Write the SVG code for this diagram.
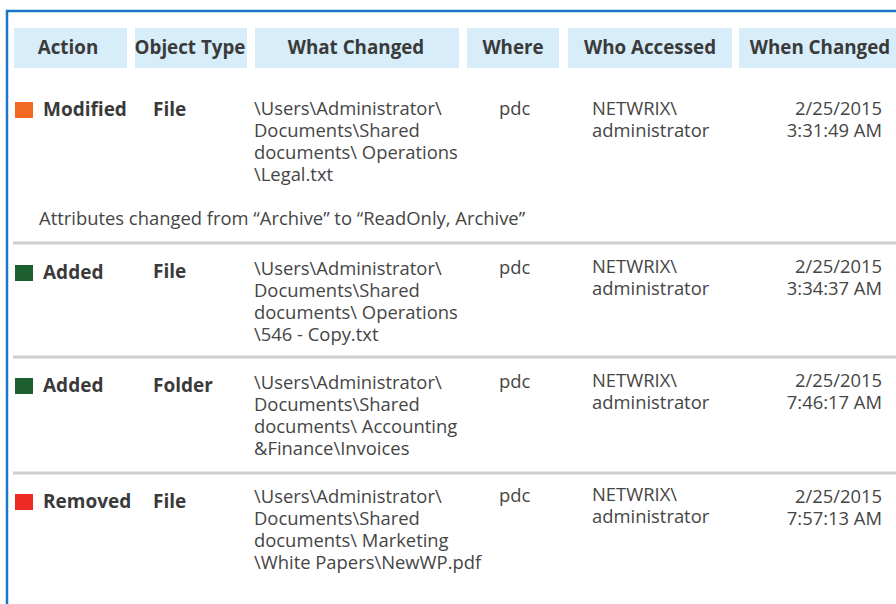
<svg xmlns="http://www.w3.org/2000/svg" width="896" height="604" viewBox="0 0 896 604">
<style>
.hd{fill:#d7edf9}
.ht{font-family:"Open Sans","Noto Sans",sans-serif;font-weight:bold;font-size:18.8px;fill:#3a3a3a;text-anchor:middle}
.b{font-family:"Open Sans","Noto Sans",sans-serif;font-weight:bold;font-size:19px;fill:#3a3a3a}
.t{font-family:"Open Sans","Noto Sans",sans-serif;font-size:18.4px;fill:#454545}
.r{text-anchor:end}
.sep{stroke:#cfcfcf;stroke-width:3}
</style>
<rect width="896" height="604" fill="#fff"/>
<path d="M7 604 V11 H896" fill="none" stroke="#1b74c5" stroke-width="2.5"/>
<g id="header">
<rect class="hd" x="14" y="28" width="113" height="40"/>
<rect class="hd" x="135" y="28" width="112" height="40"/>
<rect class="hd" x="255" y="28" width="204" height="40"/>
<rect class="hd" x="467" y="28" width="92" height="40"/>
<rect class="hd" x="568" y="28" width="164" height="40"/>
<rect class="hd" x="739" y="28" width="160" height="40"/>
<text class="ht" x="68" y="54">Action</text>
<text class="ht" x="190" y="54">Object Type</text>
<text class="ht" x="356" y="54">What Changed</text>
<text class="ht" x="513" y="54">Where</text>
<text class="ht" x="650" y="54">Who Accessed</text>
<text class="ht" x="820" y="54">When Changed</text>
</g>
<g id="row1">
<rect x="15" y="102" width="18" height="16" fill="#f26a22"/>
<text class="b" x="43" y="116">Modified</text>
<text class="b" x="153" y="116">File</text>
<text class="t" x="254" y="115">\Users\Administrator\</text>
<text class="t" x="254" y="137">Documents\Shared</text>
<text class="t" x="254" y="159">documents\ Operations</text>
<text class="t" x="254" y="181">\Legal.txt</text>
<text class="t" x="499" y="115">pdc</text>
<text class="t" x="592" y="115">NETWRIX\</text>
<text class="t" x="592" y="137">administrator</text>
<text class="t r" x="882" y="115">2/25/2015</text>
<text class="t r" x="882" y="137">3:31:49 AM</text>
<text class="t" x="39" y="225">Attributes changed from “Archive” to “ReadOnly, Archive”</text>
</g>
<line class="sep" x1="13" y1="243" x2="896" y2="243"/>
<g id="row2">
<rect x="15" y="265" width="18" height="16" fill="#1d5f2f"/>
<text class="b" x="43" y="279">Added</text>
<text class="b" x="153" y="278">File</text>
<text class="t" x="254" y="275">\Users\Administrator\</text>
<text class="t" x="254" y="297">Documents\Shared</text>
<text class="t" x="254" y="319">documents\ Operations</text>
<text class="t" x="254" y="341">\546 - Copy.txt</text>
<text class="t" x="499" y="274">pdc</text>
<text class="t" x="592" y="273">NETWRIX\</text>
<text class="t" x="592" y="295">administrator</text>
<text class="t r" x="882" y="273">2/25/2015</text>
<text class="t r" x="882" y="295">3:34:37 AM</text>
</g>
<line class="sep" x1="13" y1="357" x2="896" y2="357"/>
<g id="row3">
<rect x="15" y="378" width="18" height="16" fill="#1d5f2f"/>
<text class="b" x="43" y="392">Added</text>
<text class="b" x="153" y="392">Folder</text>
<text class="t" x="254" y="389">\Users\Administrator\</text>
<text class="t" x="254" y="411">Documents\Shared</text>
<text class="t" x="254" y="433">documents\ Accounting</text>
<text class="t" x="254" y="455">&amp;Finance\Invoices</text>
<text class="t" x="499" y="388">pdc</text>
<text class="t" x="592" y="387">NETWRIX\</text>
<text class="t" x="592" y="409">administrator</text>
<text class="t r" x="882" y="387">2/25/2015</text>
<text class="t r" x="882" y="409">7:46:17 AM</text>
</g>
<line class="sep" x1="13" y1="473" x2="896" y2="473"/>
<g id="row4">
<rect x="15" y="494" width="18" height="16" fill="#ee2a24"/>
<text class="b" x="43" y="508">Removed</text>
<text class="b" x="153" y="508">File</text>
<text class="t" x="254" y="503">\Users\Administrator\</text>
<text class="t" x="254" y="525">Documents\Shared</text>
<text class="t" x="254" y="547">documents\ Marketing</text>
<text class="t" x="254" y="569">\White Papers\NewWP.pdf</text>
<text class="t" x="499" y="502">pdc</text>
<text class="t" x="592" y="501">NETWRIX\</text>
<text class="t" x="592" y="523">administrator</text>
<text class="t r" x="882" y="503">2/25/2015</text>
<text class="t r" x="882" y="525">7:57:13 AM</text>
</g>
</svg>
